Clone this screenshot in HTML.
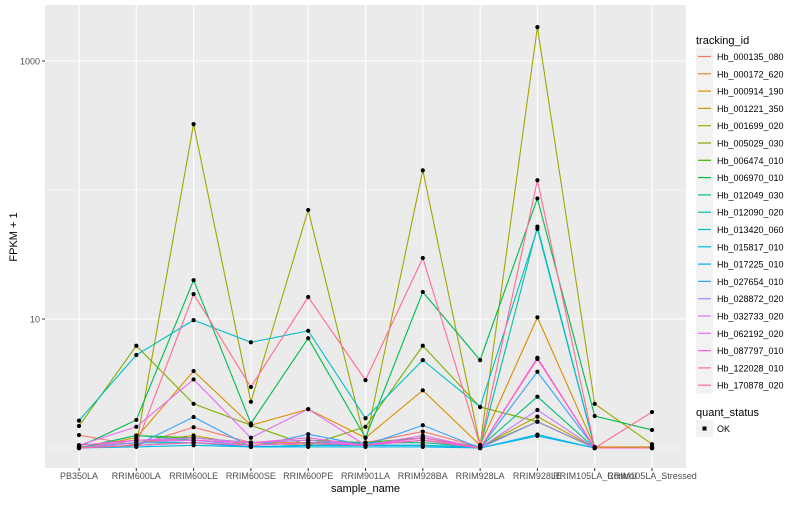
<!DOCTYPE html>
<html><head><meta charset="utf-8"><style>
body{margin:0;background:#fff;font-family:"Liberation Sans",sans-serif}
svg text{font-family:"Liberation Sans",sans-serif}
</style></head><body>
<svg id="c" width="800" height="500" xmlns="http://www.w3.org/2000/svg"></svg>
<script>
const samples=["PB350LA","RRIM600LA","RRIM600LE","RRIM600SE","RRIM600PE","RRIM901LA","RRIM928BA","RRIM928LA","RRIM928LE","RRIM105LA_Control","RRIM105LA_Stressed"];
const ids=["Hb_000135_080","Hb_000172_620","Hb_000914_190","Hb_001221_350","Hb_001699_020","Hb_005029_030","Hb_006474_010","Hb_006970_010","Hb_012049_030","Hb_012090_020","Hb_013420_060","Hb_015817_010","Hb_017225_010","Hb_027654_010","Hb_028872_020","Hb_032733_020","Hb_062192_020","Hb_087797_010","Hb_122028_010","Hb_170878_020"];
const colors=["#F8766D","#EA8331","#D89000","#C09B00","#A3A500","#7CAE00","#39B600","#00BB4E","#00BF7D","#00C1A3","#00BFC4","#00BAE0","#00B0F6","#35A2FF","#9590FF","#C77CFF","#E76BF3","#FA62DB","#FF62BC","#FF6C91"];
const v0=[1.26,1.05,1.45,1.1,1.05,1.1,1.34,1.02,1.6,1.0,1.0];
const v1=[1.02,1.1,1.2,1.1,1.1,1.05,1.2,1.02,1.6,1.0,1.0];
const v2=[1.0,1.2,3.95,1.5,2.0,1.2,2.8,1.05,10.3,1.02,1.02];
const v3=[1.0,1.1,1.25,1.05,1.1,1.05,1.15,1.02,1.75,1.0,1.02];
const v4=[1.0,1.05,324,2.28,70,1.1,142,1.05,1830,2.2,1.07];
const v5=[1.48,6.2,2.2,1.5,1.05,1.46,6.2,2.08,1.6,1.0,1.0];
const v6=[1.0,1.25,1.2,1.1,1.15,1.1,1.2,1.02,1.6,1.0,1.0];
const v7=[1.02,1.65,20,1.55,7.1,1.2,16.2,4.8,86,1.77,1.38];
const v8=[1.0,1.25,1.15,1.05,1.1,1.1,1.1,1.02,2.5,1.0,1.0];
const v9=[1.0,1.1,1.1,1.02,1.05,1.05,1.05,1.02,52,1.0,1.0];
const v10=[1.63,5.26,9.8,6.6,8.1,1.7,4.8,2.08,50,1.0,1.0];
const v11=[1.0,1.02,1.05,1.02,1.02,1.02,1.02,1.0,1.24,1.0,1.0];
const v12=[1.0,1.05,1.1,1.02,1.05,1.05,1.05,1.0,1.27,1.0,1.0];
const v13=[1.0,1.05,1.74,1.02,1.28,1.05,1.5,1.0,3.9,1.0,1.0];
const v14=[1.0,1.1,1.15,1.05,1.1,1.05,1.15,1.0,1.6,1.0,1.0];
const v15=[1.0,1.15,1.2,1.1,1.15,1.05,1.2,1.0,1.97,1.0,1.0];
const v16=[1.05,1.46,3.4,1.2,2.0,1.05,1.25,1.0,5.0,1.0,1.0];
const v17=[1.05,1.15,1.15,1.1,1.2,1.05,1.2,1.0,5.0,1.0,1.0];
const v18=[1.0,1.05,1.1,1.05,1.1,1.05,1.15,1.0,4.9,1.0,1.0];
const v19=[1.0,1.05,15.6,2.97,14.8,3.36,29.7,1.05,119,1.0,1.9];
const series=[v0,v1,v2,v3,v4,v5,v6,v7,v8,v9,v10,v11,v12,v13,v14,v15,v16,v17,v18,v19];
const yTicks=[10,1000];
const yMinor=[1,100];

const NS="http://www.w3.org/2000/svg";
const svg=document.getElementById('c');
function el(t,a,p){const e=document.createElementNS(NS,t);for(const k in a)e.setAttribute(k,a[k]);(p||svg).appendChild(e);return e;}
const L=45,R=686,T=5,B=468;
const x=i=>79+i*57.3;
const y=v=>448-129*Math.log10(v);

const panel=el('rect',{x:L,y:T,width:R-L,height:B-T,fill:'#EBEBEB'});

yMinor.forEach(v=>{const g=el('line',{x1:L,x2:R,y1:y(v),y2:y(v),stroke:'#fff','stroke-width':0.6});
});
yTicks.forEach(v=>{const g=el('line',{x1:L,x2:R,y1:y(v),y2:y(v),stroke:'#fff','stroke-width':1.1});

const tk=el('line',{x1:L-3,x2:L,y1:y(v),y2:y(v),stroke:'#333','stroke-width':1});

const t=el('text',{x:L-5,y:y(v)+3.5,'text-anchor':'end','font-size':9,fill:'#4D4D4D'});t.textContent=v;
});
samples.forEach((s,i)=>{const g=el('line',{x1:x(i),x2:x(i),y1:T,y2:B,stroke:'#fff','stroke-width':1.1});

const tk=el('line',{x1:x(i),x2:x(i),y1:B,y2:B+3,stroke:'#333','stroke-width':1});

const t=el('text',{x:x(i),y:479,'text-anchor':'middle','font-size':9,fill:'#4D4D4D'});t.textContent=s;
});

series.forEach((vals,si)=>{const p=el('polyline',{points:vals.map((v,i)=>x(i)+','+y(v)).join(' '),fill:'none',stroke:colors[si],'stroke-width':1.1});
});
series.forEach((vals,si)=>{vals.forEach((v,i)=>{const c=el('circle',{cx:x(i),cy:y(v),r:2.1,fill:'#000'});
});});

const xt=el('text',{x:(L+R)/2,y:492,'text-anchor':'middle','font-size':11,fill:'#000'});xt.textContent='sample_name';

const yt=el('text',{x:0,y:0,'text-anchor':'middle','font-size':11,fill:'#000',transform:'translate(17,237) rotate(-90)'});yt.textContent='FPKM + 1';


const lt=el('text',{x:696,y:44,'font-size':11,fill:'#000'});lt.textContent='tracking_id';

ids.forEach((id,i)=>{const cy=56.5+i*17.3;
const g=el('g',{});
el('rect',{x:696,y:cy-8.5,width:17,height:17,fill:'#F2F2F2'},g);
el('line',{x1:698,x2:711,y1:cy,y2:cy,stroke:colors[i],'stroke-width':1.2},g);
const t=el('text',{x:717,y:cy+3.5,'font-size':9,fill:'#000'},g);t.textContent=id;});
const qt=el('text',{x:696,y:416,'font-size':11,fill:'#000'});qt.textContent='quant_status';

const q=el('g',{});
el('rect',{x:696,y:420,width:17,height:17,fill:'#F2F2F2'},q);
el('rect',{x:702.5,y:426.5,width:4,height:4,fill:'#000'},q);
const ok=el('text',{x:717,y:432,'font-size':9,fill:'#000'},q);ok.textContent='OK';
</script></body></html>
